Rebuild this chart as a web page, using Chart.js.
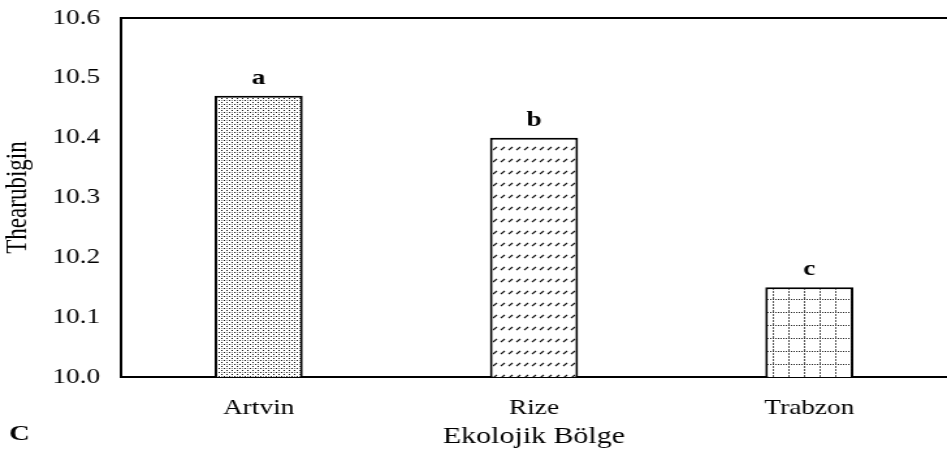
<!DOCTYPE html>
<html>
<head>
<meta charset="utf-8">
<script src="https://cdn.jsdelivr.net/npm/chart.js@4"></script>
<style>
  html, body { margin: 0; padding: 0; background: #fff; overflow: hidden; }
  /* the source figure is stretched horizontally, so draw narrower and widen */
  #wrap { width: 728px; height: 455px; transform: scaleX(1.3008); transform-origin: 0 0; }
</style>
</head>
<body>
<div id="wrap"><canvas id="chart"></canvas></div>
<script>
const regions = ['Artvin', 'Rize', 'Trabzon'];
const thearubigin = [10.47, 10.40, 10.15];
const groupLetters = ['a', 'b', 'c'];
const yTicks = [10.0, 10.1, 10.2, 10.3, 10.4, 10.5, 10.6];

const serif = '"Liberation Serif", "Times New Roman", serif';

function makeTile(w, h, draw) {
    const c = document.createElement('canvas');
    c.width = w; c.height = h;
    const g = c.getContext('2d');
    g.fillStyle = '#fff';
    g.fillRect(0, 0, w, h);
    draw(g);
    return document.createElement('canvas').getContext('2d').createPattern(c, 'repeat');
}

// dotted fill
const dotFill = makeTile(4, 4, g => {
    g.fillStyle = '#111';
    g.fillRect(0, 0, 1, 1);
    g.fillRect(2, 2, 1, 1);
    g.fillStyle = '#888';
    g.fillRect(2, 0, 1, 1);
});

// rows of small slashes
const slashFill = makeTile(6, 12, g => {
    g.strokeStyle = '#111';
    g.lineWidth = 1.1;
    g.beginPath();
    g.moveTo(1, 6);
    g.lineTo(4, 3);
    g.stroke();
});

// dotted grid
const gridFill = makeTile(12, 13, g => {
    g.fillStyle = '#222';
    for (let x = 0; x < 12; x += 2) g.fillRect(x, 0, 1, 1);
    g.fillStyle = '#555';
    for (let y = 2; y < 13; y += 3) g.fillRect(6, y, 1, 2);
});

const letterPlugin = {
    id: 'letters',
    afterDatasetsDraw(chart) {
        const ctx = chart.ctx;
        const meta = chart.getDatasetMeta(0);
        ctx.save();
        ctx.fillStyle = '#000';
        ctx.font = 'bold 21px ' + serif;
        ctx.textAlign = 'center';
        ctx.textBaseline = 'alphabetic';
        meta.data.forEach((bar, i) => {
            ctx.fillText(groupLetters[i], bar.x, bar.y - 12);
        });
        // top frame line
        const a = chart.chartArea;
        ctx.strokeStyle = '#000';
        ctx.lineWidth = 2;
        ctx.beginPath();
        ctx.moveTo(a.left - 1, a.top);
        ctx.lineTo(a.right, a.top);
        ctx.stroke();
        // panel label
        ctx.font = 'bold 22px ' + serif;
        ctx.textAlign = 'left';
        ctx.fillText('C', 7, 440);
        ctx.restore();
    }
};

new Chart(document.getElementById('chart'), {
    type: 'bar',
    data: {
        labels: regions,
        datasets: [{
            data: thearubigin,
            backgroundColor: [dotFill, slashFill, gridFill],
            borderColor: '#000',
            borderWidth: 2,
            borderSkipped: 'bottom',
            barPercentage: 0.32,
            categoryPercentage: 1.0
        }]
    },
    options: {
        responsive: true,
        maintainAspectRatio: false,
        animation: false,
        layout: { padding: { top: 18, right: 0, left: 0, bottom: 0 } },
        plugins: {
            legend: { display: false },
            tooltip: { enabled: false }
        },
        scales: {
            x: {
                grid: { display: false, drawTicks: false },
                border: { display: true, color: '#000', width: 2 },
                ticks: {
                    color: '#000',
                    font: { family: serif, size: 21 },
                    padding: 19
                },
                title: {
                    display: true,
                    text: 'Ekolojik Bölge',
                    color: '#000',
                    font: { family: serif, size: 23 },
                    padding: { top: 0, bottom: 4 }
                },
                afterFit(scale) { scale.height = 78; }
            },
            y: {
                min: 10.0,
                max: 10.6,
                grid: { display: false, drawTicks: false },
                border: { display: true, color: '#000', width: 2 },
                afterBuildTicks(scale) {
                    scale.ticks = yTicks.map(v => ({ value: v }));
                },
                ticks: {
                    color: '#000',
                    font: { family: serif, size: 21 },
                    padding: 16,
                    callback: v => v.toFixed(1)
                },
                title: {
                    display: true,
                    text: 'Thearubigin',
                    color: '#000',
                    font: { family: serif, size: 23 },
                    padding: { top: 0, bottom: 0 }
                },
                afterFit(scale) {
                    scale.width = 93;
                    scale.paddingTop = 0;
                    scale.paddingBottom = 0;
                }
            }
        }
    },
    plugins: [letterPlugin]
});
</script>
</body>
</html>
